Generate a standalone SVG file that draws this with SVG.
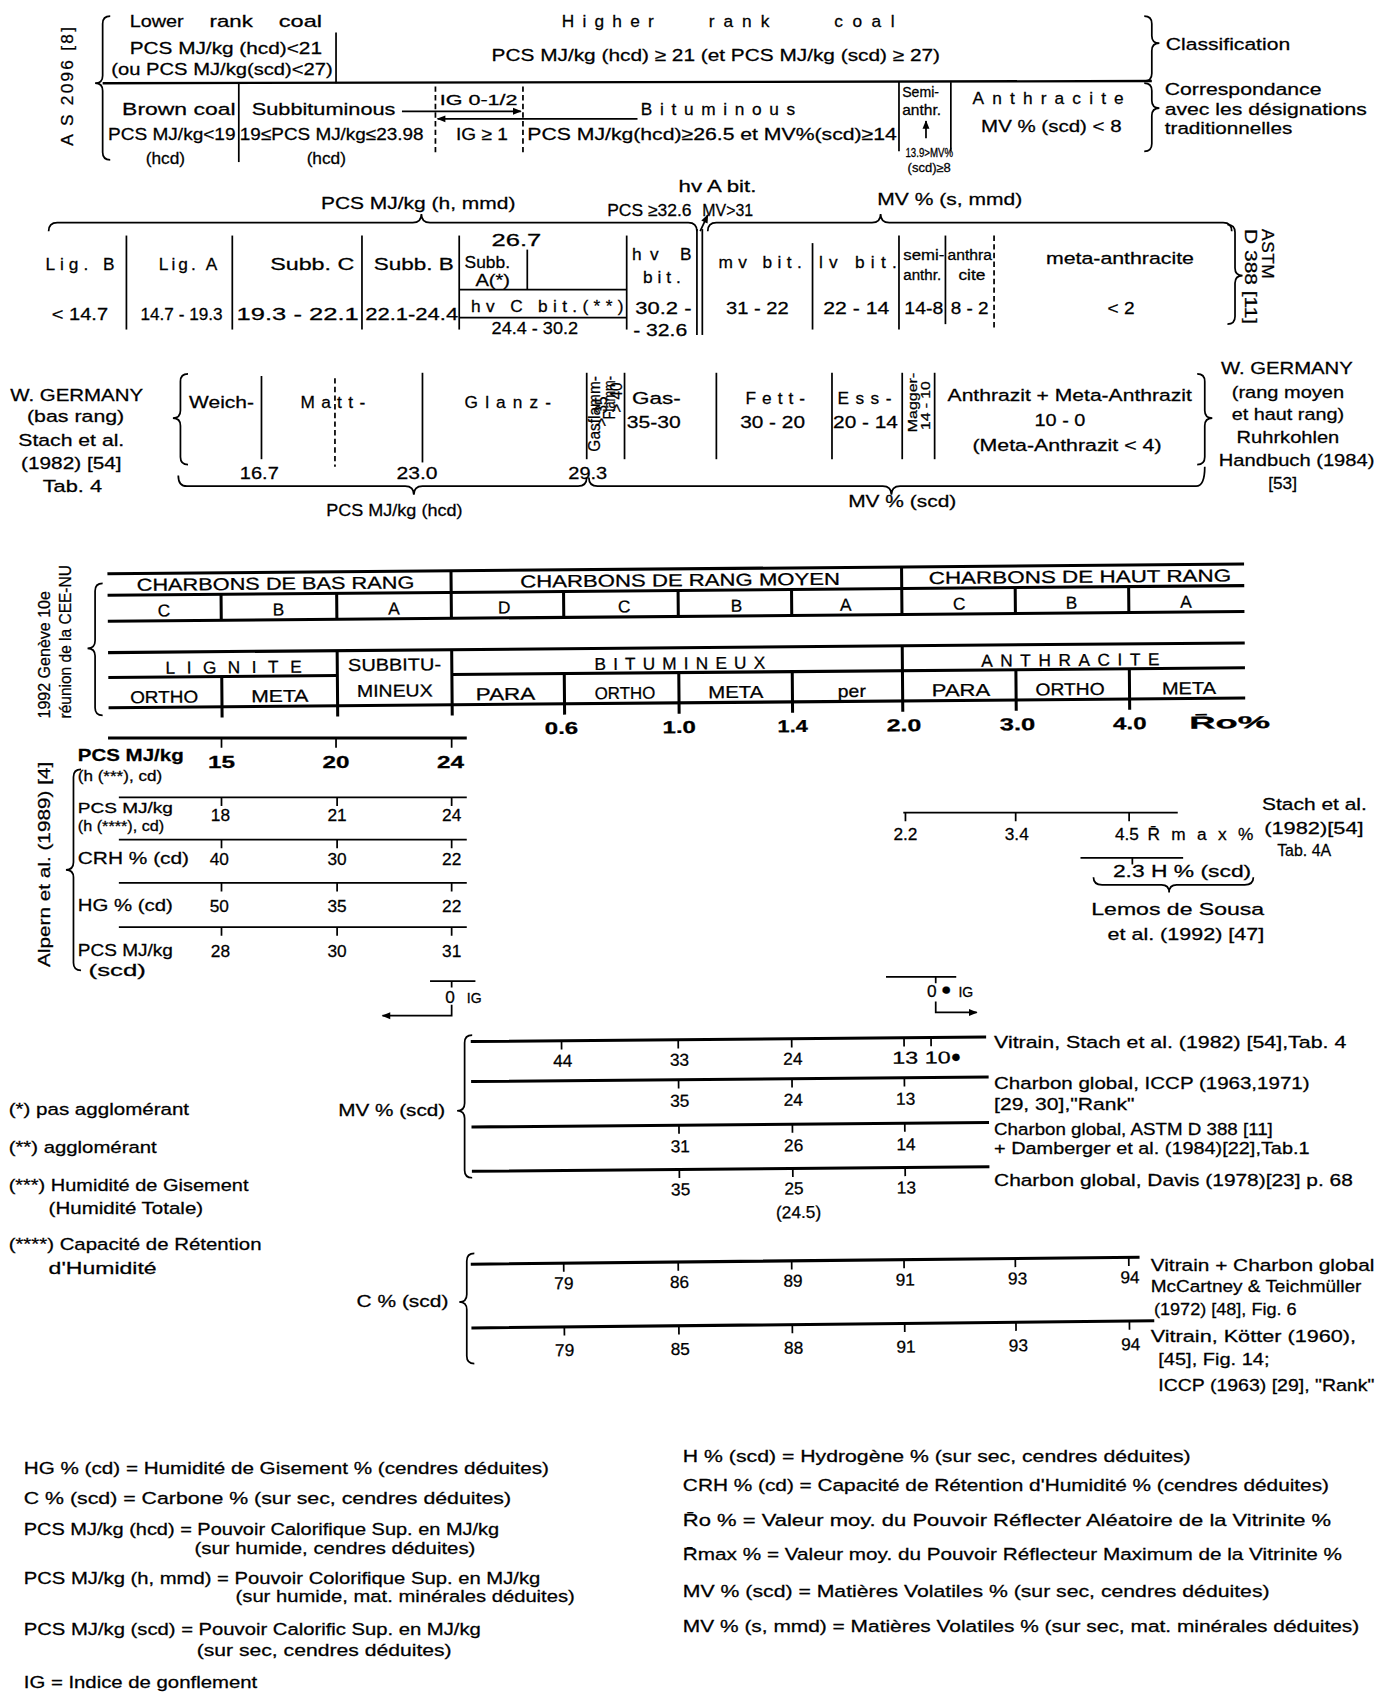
<svg xmlns="http://www.w3.org/2000/svg" width="1396" height="1694" viewBox="0 0 1396 1694">
<style>
text{font-family:'Liberation Sans',Arial,sans-serif;font-size:16px;fill:#000;stroke:#000;stroke-width:0.25}
.sm{font-size:13px}.xs{font-size:11px}.bd{font-weight:bold}.m{text-anchor:middle}
.ln{fill:none;stroke:#000;stroke-width:1.6}
.tk{fill:none;stroke:#000;stroke-width:2.8}
.ds{stroke-dasharray:5 3}
</style>
<defs>
<marker id="ah" viewBox="0 0 10 10" refX="9" refY="5" markerUnits="userSpaceOnUse" markerWidth="9" markerHeight="8" orient="auto-start-reverse"><path d="M0,1 L10,5 L0,9 z" fill="#000"/></marker>
</defs>
<rect width="1396" height="1694" fill="#fff"/>
<g transform="scale(1.0805)">

<!-- Section 1: AS 2096 -->
<g id="as2096">
<text transform="translate(68,135) rotate(-90)" textLength="110" lengthAdjust="spacing" font-size="17">A S 2096 [8]</text>
<path class="ln" d="M102,15 Q95,15 95,22 L95,70 Q95,77 88,77 Q95,77 95,84 L95,141 Q95,148 102,148"/>
<text x="120" y="25" textLength="50" lengthAdjust="spacingAndGlyphs">Lower</text>
<text x="194" y="25" textLength="40" lengthAdjust="spacingAndGlyphs">rank</text>
<text x="258" y="25" textLength="40" lengthAdjust="spacingAndGlyphs">coal</text>
<text x="120" y="50" textLength="178" lengthAdjust="spacingAndGlyphs">PCS MJ/kg (hcd)&lt;21</text>
<text x="103" y="69" textLength="205" lengthAdjust="spacingAndGlyphs">(ou PCS MJ/kg(scd)&lt;27)</text>
<line class="ln" x1="311" y1="30" x2="311" y2="77"/>
<text x="520" y="25" textLength="85" lengthAdjust="spacing">Higher</text>
<text x="656" y="25" textLength="56" lengthAdjust="spacing">rank</text>
<text x="772" y="25" textLength="56" lengthAdjust="spacing">coal</text>
<text x="455" y="56" textLength="415" lengthAdjust="spacingAndGlyphs">PCS MJ/kg (hcd) ≥ 21 (et PCS MJ/kg (scd) ≥ 27)</text>
<line x1="95" y1="77" x2="1066" y2="75" stroke="#000" stroke-width="2.2"/>
<path class="ln" d="M1059,15 Q1066,15 1066,22 L1066,33 Q1066,40 1073,40 Q1066,40 1066,47 L1066,68 Q1066,75 1059,75"/>
<text x="1079" y="46" textLength="115" lengthAdjust="spacingAndGlyphs">Classification</text>
<path class="ln" d="M1059,77 Q1066,77 1066,84 L1066,93 Q1066,100 1073,100 Q1066,100 1066,107 L1066,133 Q1066,140 1059,140"/>
<text x="1078" y="88" textLength="145" lengthAdjust="spacingAndGlyphs">Correspondance</text>
<text x="1078" y="106" textLength="187" lengthAdjust="spacingAndGlyphs">avec les désignations</text>
<text x="1078" y="124" textLength="118" lengthAdjust="spacingAndGlyphs">traditionnelles</text>
<text x="113" y="106" textLength="105" lengthAdjust="spacingAndGlyphs">Brown  coal</text>
<line class="ln" x1="221" y1="77" x2="221" y2="150"/>
<text x="233" y="106" textLength="133" lengthAdjust="spacingAndGlyphs">Subbituminous</text>
<line class="ln" x1="372" y1="103" x2="482" y2="103" marker-end="url(#ah)"/>
<line class="ln ds" x1="403" y1="80" x2="403" y2="142"/>
<line class="ln ds" x1="484" y1="80" x2="484" y2="142"/>
<text x="407" y="97" class="sm" textLength="72" lengthAdjust="spacingAndGlyphs">IG 0-1/2</text>
<line class="ln" x1="590" y1="110" x2="405" y2="110" marker-end="url(#ah)"/>
<text x="593" y="106" textLength="143" lengthAdjust="spacing">Bituminous</text>
<text x="100" y="130" textLength="118" lengthAdjust="spacingAndGlyphs">PCS MJ/kg&lt;19</text>
<text x="153" y="152" class="m">(hcd)</text>
<text x="222" y="130" textLength="170" lengthAdjust="spacingAndGlyphs">19≤PCS MJ/kg≤23.98</text>
<text x="302" y="152" class="m">(hcd)</text>
<text x="422" y="130" textLength="48" lengthAdjust="spacingAndGlyphs">IG ≥ 1</text>
<text x="488" y="130" textLength="342" lengthAdjust="spacingAndGlyphs">PCS MJ/kg(hcd)≥26.5 et MV%(scd)≥14</text>
<line class="ln" x1="832" y1="76" x2="832" y2="140"/>
<line class="ln" x1="880" y1="76" x2="880" y2="140"/>
<text x="835" y="90" class="sm" textLength="34" lengthAdjust="spacingAndGlyphs">Semi-</text>
<text x="835" y="106" class="sm" textLength="36" lengthAdjust="spacingAndGlyphs">anthr.</text>
<line class="ln" x1="857" y1="128" x2="857" y2="112" marker-end="url(#ah)"/>
<text x="838" y="145" class="xs" textLength="44" lengthAdjust="spacingAndGlyphs">13.9&gt;MV%</text>
<text x="840" y="159" class="xs" textLength="40" lengthAdjust="spacingAndGlyphs">(scd)≥8</text>
<text x="900" y="96" textLength="140" lengthAdjust="spacing">Anthracite</text>
<text x="908" y="122" textLength="130" lengthAdjust="spacingAndGlyphs">MV % (scd) &lt; 8</text>
</g>

<!-- Section 2: ASTM -->
<g id="astm">
<text x="628" y="178" textLength="72" lengthAdjust="spacingAndGlyphs">hv A bit.</text>
<text x="297" y="193" textLength="180" lengthAdjust="spacingAndGlyphs">PCS MJ/kg  (h, mmd)</text>
<text x="562" y="200" textLength="78" lengthAdjust="spacingAndGlyphs">PCS ≥32.6</text>
<text x="650" y="200" textLength="47" lengthAdjust="spacingAndGlyphs">MV&gt;31</text>
<text x="812" y="190" textLength="134" lengthAdjust="spacingAndGlyphs">MV %  (s, mmd)</text>
<path class="ln" d="M45,214 Q45,206 53,206 L382,206 Q390,206 390,198 Q390,206 398,206 L637,206 Q645,206 645,214"/>
<path class="ln" d="M655,214 Q655,206 663,206 L807,206 Q815,206 815,198 Q815,206 823,206 L1132,206 Q1140,206 1140,214"/>
<line class="ln" x1="648" y1="214" x2="655" y2="199" marker-end="url(#ah)"/>
<path class="ln" d="M1136,208 Q1143,208 1143,215 L1143,248 Q1143,255 1150,255 Q1143,255 1143,262 L1143,293 Q1143,300 1136,300"/>
<text transform="translate(1168,212) rotate(90)" textLength="46" lengthAdjust="spacing">ASTM</text>
<text transform="translate(1152,212) rotate(90)" textLength="88" lengthAdjust="spacingAndGlyphs">D 388 [11]</text>
<line class="ln" x1="117" y1="218" x2="117" y2="305"/>
<line class="ln" x1="215" y1="218" x2="215" y2="305"/>
<line class="ln" x1="335" y1="218" x2="335" y2="305"/>
<line class="ln" x1="425" y1="218" x2="425" y2="305"/>
<line class="ln" x1="488" y1="231" x2="488" y2="268"/>
<line class="ln" x1="580" y1="218" x2="580" y2="305"/>
<line class="ln" x1="645" y1="212" x2="645" y2="310"/>
<line class="ln" x1="650" y1="212" x2="650" y2="310"/>
<line class="ln" x1="752" y1="225" x2="752" y2="305"/>
<line class="ln" x1="832" y1="218" x2="832" y2="305"/>
<line class="ln" x1="875" y1="218" x2="875" y2="300"/>
<line class="ln ds" x1="920" y1="218" x2="920" y2="305"/>
<line class="ln" x1="425" y1="268" x2="580" y2="268"/>
<line class="ln" x1="425" y1="294" x2="580" y2="294"/>
<text x="42" y="250" textLength="64" lengthAdjust="spacing">Lig. B</text>
<text x="48" y="296" textLength="52" lengthAdjust="spacingAndGlyphs">&lt; 14.7</text>
<text x="147" y="250" textLength="54" lengthAdjust="spacing">Lig. A</text>
<text x="130" y="296" textLength="76" lengthAdjust="spacingAndGlyphs">14.7 - 19.3</text>
<text x="250" y="250" textLength="78" lengthAdjust="spacingAndGlyphs">Subb. C</text>
<text x="219" y="296" textLength="113" lengthAdjust="spacingAndGlyphs">19.3 - 22.1</text>
<text x="346" y="250" textLength="74" lengthAdjust="spacingAndGlyphs">Subb. B</text>
<text x="338" y="296" textLength="86" lengthAdjust="spacingAndGlyphs">22.1-24.4</text>
<text x="455" y="228" textLength="46" lengthAdjust="spacingAndGlyphs">26.7</text>
<text x="430" y="248" textLength="42" lengthAdjust="spacingAndGlyphs">Subb.</text>
<text x="440" y="265" textLength="32" lengthAdjust="spacingAndGlyphs">A(*)</text>
<text x="436" y="289" textLength="141" lengthAdjust="spacing">hv C bit.(**)</text>
<text x="455" y="309" textLength="80" lengthAdjust="spacingAndGlyphs">24.4 - 30.2</text>
<text x="585" y="241" textLength="55" lengthAdjust="spacing">hv B</text>
<text x="595" y="262" textLength="35" lengthAdjust="spacing">bit.</text>
<text x="588" y="291" textLength="52" lengthAdjust="spacingAndGlyphs">30.2 -</text>
<text x="586" y="311" textLength="50" lengthAdjust="spacingAndGlyphs">- 32.6</text>
<text x="665" y="248" textLength="77" lengthAdjust="spacing">mv bit.</text>
<text x="672" y="291" textLength="58" lengthAdjust="spacingAndGlyphs">31 - 22</text>
<text x="758" y="248" textLength="72" lengthAdjust="spacing">lv bit.</text>
<text x="762" y="291" textLength="61" lengthAdjust="spacingAndGlyphs">22 - 14</text>
<text x="836" y="241" class="sm" textLength="38" lengthAdjust="spacingAndGlyphs">semi-</text>
<text x="836" y="259" class="sm" textLength="35" lengthAdjust="spacingAndGlyphs">anthr.</text>
<text x="837" y="291" textLength="36" lengthAdjust="spacingAndGlyphs">14-8</text>
<text x="877" y="241" class="sm" textLength="41" lengthAdjust="spacingAndGlyphs">anthra</text>
<text x="887" y="259" class="sm" textLength="25" lengthAdjust="spacingAndGlyphs">cite</text>
<text x="880" y="291" textLength="35" lengthAdjust="spacingAndGlyphs">8 - 2</text>
<text x="968" y="244" textLength="137" lengthAdjust="spacingAndGlyphs">meta-anthracite</text>
<text x="1025" y="291" textLength="25" lengthAdjust="spacingAndGlyphs">&lt; 2</text>
</g>

<!-- Section 3: W. Germany -->
<g id="wgermany">
<text x="71" y="371" class="m" textLength="123" lengthAdjust="spacingAndGlyphs">W. GERMANY</text>
<text x="70" y="391" class="m" textLength="90" lengthAdjust="spacingAndGlyphs">(bas rang)</text>
<text x="66" y="413" class="m" textLength="98" lengthAdjust="spacingAndGlyphs">Stach et al.</text>
<text x="66" y="434" class="m" textLength="93" lengthAdjust="spacingAndGlyphs">(1982) [54]</text>
<text x="67" y="455" class="m" textLength="55" lengthAdjust="spacingAndGlyphs">Tab. 4</text>
<path class="ln" d="M174,346 Q167,346 167,353 L167,380 Q167,387 160,387 Q167,387 167,394 L167,423 Q167,430 174,430"/>
<text x="175" y="378" textLength="60" lengthAdjust="spacingAndGlyphs">Weich-</text>
<line class="ln" x1="242" y1="348" x2="242" y2="425"/>
<text x="278" y="378" textLength="60" lengthAdjust="spacing">Matt-</text>
<line class="ln ds" x1="310" y1="350" x2="310" y2="432"/>
<line class="ln" x1="391" y1="345" x2="391" y2="428"/>
<text x="430" y="378" textLength="80" lengthAdjust="spacing">Glanz-</text>
<line class="ln" x1="543" y1="345" x2="543" y2="425"/>
<text transform="translate(555,418) rotate(-90)" font-size="10" textLength="70" lengthAdjust="spacingAndGlyphs">Gasflamm-</text>
<text transform="translate(562,395) rotate(-90)" font-size="10" textLength="28" lengthAdjust="spacingAndGlyphs">&gt; 35</text>
<text transform="translate(569,388) rotate(-90)" font-size="10" textLength="40" lengthAdjust="spacingAndGlyphs">Flamm-</text>
<text transform="translate(576,382) rotate(-90)" font-size="10" textLength="28" lengthAdjust="spacingAndGlyphs">&gt; 40</text>
<line class="ln" x1="578" y1="345" x2="578" y2="425"/>
<text x="585" y="374" textLength="45" lengthAdjust="spacingAndGlyphs">Gas-</text>
<text x="580" y="396" textLength="50" lengthAdjust="spacingAndGlyphs">35-30</text>
<line class="ln" x1="663" y1="345" x2="663" y2="425"/>
<text x="690" y="374" textLength="55" lengthAdjust="spacing">Fett-</text>
<text x="685" y="396" textLength="60" lengthAdjust="spacingAndGlyphs">30 - 20</text>
<line class="ln" x1="770" y1="345" x2="770" y2="425"/>
<text x="775" y="374" textLength="50" lengthAdjust="spacing">Ess-</text>
<text x="771" y="396" textLength="60" lengthAdjust="spacingAndGlyphs">20 - 14</text>
<line class="ln" x1="835" y1="345" x2="835" y2="425"/>
<text transform="translate(849,400) rotate(-90)" class="xs" textLength="55" lengthAdjust="spacingAndGlyphs">Magger-</text>
<text transform="translate(861,398) rotate(-90)" class="xs" textLength="45" lengthAdjust="spacingAndGlyphs">14 - 10</text>
<line class="ln" x1="865" y1="345" x2="865" y2="425"/>
<text x="877" y="371" textLength="226" lengthAdjust="spacingAndGlyphs">Anthrazit + Meta-Anthrazit</text>
<text x="981" y="394" class="m" textLength="47" lengthAdjust="spacingAndGlyphs">10 - 0</text>
<text x="900" y="417" textLength="175" lengthAdjust="spacingAndGlyphs">(Meta-Anthrazit  &lt; 4)</text>
<path class="ln" d="M1108,346 Q1115,346 1115,353 L1115,380 Q1115,387 1122,387 Q1115,387 1115,394 L1115,423 Q1115,430 1108,430"/>
<text x="1191" y="346" class="m" textLength="122" lengthAdjust="spacingAndGlyphs">W. GERMANY</text>
<text x="1192" y="368" class="m" textLength="104" lengthAdjust="spacingAndGlyphs">(rang moyen</text>
<text x="1192" y="389" class="m" textLength="104" lengthAdjust="spacingAndGlyphs">et haut rang)</text>
<text x="1192" y="410" class="m" textLength="95" lengthAdjust="spacingAndGlyphs">Ruhrkohlen</text>
<text x="1200" y="431" class="m" textLength="144" lengthAdjust="spacingAndGlyphs">Handbuch (1984)</text>
<text x="1187" y="453" class="m">[53]</text>
<text x="240" y="443" class="m" textLength="36" lengthAdjust="spacingAndGlyphs">16.7</text>
<text x="386" y="443" class="m" textLength="38" lengthAdjust="spacingAndGlyphs">23.0</text>
<text x="544" y="443" class="m" textLength="36" lengthAdjust="spacingAndGlyphs">29.3</text>
<path class="ln" d="M165,440 Q165,450 173,450 L375,450 Q383,450 383,458 Q383,450 391,450 L535,450 Q543,450 543,442"/>
<path class="ln" d="M545,442 Q545,450 553,450 L817,450 Q825,450 825,458 Q825,450 833,450 L1107,450 Q1115,450 1115,432"/>
<text x="302" y="478" textLength="126" lengthAdjust="spacingAndGlyphs">PCS MJ/kg (hcd)</text>
<text x="785" y="469" textLength="100" lengthAdjust="spacingAndGlyphs">MV %  (scd)</text>
</g>

<!-- Section 4: CEE-NU 1992 -->
<g id="ceenu">
<text transform="translate(46,665) rotate(-90)" font-size="17" textLength="118" lengthAdjust="spacingAndGlyphs">1992 Genève 10e</text>
<text transform="translate(66,665) rotate(-90)" font-size="17" textLength="142" lengthAdjust="spacingAndGlyphs">réunion de la CEE-NU</text>
<path class="ln" d="M95,540 Q88,540 88,547 L88,593 Q88,600 81,600 Q88,600 88,607 L88,655 Q88,662 95,662"/>
<g transform="rotate(-0.49,100,600)">
<line class="tk" x1="100" y1="531" x2="1152" y2="531"/>
<line class="tk" x1="100" y1="551" x2="1152" y2="551" stroke-width="2.2"/>
<line class="tk" x1="100" y1="575" x2="1152" y2="575" stroke-width="3.2"/>
<line class="tk" x1="100" y1="604" x2="1152" y2="604" stroke-width="3.2"/>
<line class="tk" x1="100" y1="627" x2="312" y2="627" stroke-width="2.2"/>
<line class="tk" x1="418" y1="627" x2="1152" y2="627" stroke-width="2.2"/>
<line class="tk" x1="100" y1="655" x2="1152" y2="655" stroke-width="3.2"/>
<path class="tk" stroke-width="2.4" d="M418,531V551M835,531V551M205,551V575M312,551V575M418,551V575M522,551V575M628,551V575M733,551V575M835,551V575M940,551V575M1045,551V575M312,604V655M418,604V627M835,604V627M205,627V665M312,627V665M418,627V665M522,627V665M628,627V665M733,627V665M835,627V665M940,627V665M1045,627V665"/>
<text x="127" y="547" textLength="257" lengthAdjust="spacingAndGlyphs">CHARBONS  DE  BAS  RANG</text>
<text x="482" y="547" textLength="296" lengthAdjust="spacingAndGlyphs">CHARBONS  DE  RANG  MOYEN</text>
<text x="860" y="547" textLength="280" lengthAdjust="spacingAndGlyphs">CHARBONS  DE  HAUT  RANG</text>
<text x="152" y="571" class="m">C</text>
<text x="258" y="571" class="m">B</text>
<text x="365" y="571" class="m">A</text>
<text x="467" y="571" class="m">D</text>
<text x="578" y="571" class="m">C</text>
<text x="682" y="571" class="m">B</text>
<text x="783" y="571" class="m">A</text>
<text x="888" y="571" class="m">C</text>
<text x="992" y="571" class="m">B</text>
<text x="1098" y="571" class="m">A</text>
<text x="153" y="624" textLength="126" lengthAdjust="spacing">LIGNITE</text>
<text x="322" y="623" textLength="86" lengthAdjust="spacingAndGlyphs">SUBBITU-</text>
<text x="330" y="647" textLength="70" lengthAdjust="spacingAndGlyphs">MINEUX</text>
<text x="550" y="624" textLength="158" lengthAdjust="spacing">BITUMINEUX</text>
<text x="908" y="624" textLength="165" lengthAdjust="spacing">ANTHRACITE</text>
<text x="120" y="651" textLength="63" lengthAdjust="spacingAndGlyphs">ORTHO</text>
<text x="232" y="651" textLength="53" lengthAdjust="spacingAndGlyphs">META</text>
<text x="440" y="651" textLength="55" lengthAdjust="spacingAndGlyphs">PARA</text>
<text x="550" y="651" textLength="56" lengthAdjust="spacingAndGlyphs">ORTHO</text>
<text x="655" y="651" textLength="51" lengthAdjust="spacingAndGlyphs">META</text>
<text x="775" y="651" textLength="26" lengthAdjust="spacingAndGlyphs">per</text>
<text x="862" y="651" textLength="54" lengthAdjust="spacingAndGlyphs">PARA</text>
<text x="958" y="651" textLength="64" lengthAdjust="spacingAndGlyphs">ORTHO</text>
<text x="1075" y="651" textLength="50" lengthAdjust="spacingAndGlyphs">META</text>
<text x="519" y="683" class="m bd" font-size="21" textLength="31" lengthAdjust="spacingAndGlyphs">0.6</text>
<text x="628" y="683" class="m bd" font-size="21" textLength="31" lengthAdjust="spacingAndGlyphs">1.0</text>
<text x="733" y="683" class="m bd" font-size="21" textLength="28" lengthAdjust="spacingAndGlyphs">1.4</text>
<text x="836" y="683" class="m bd" font-size="21" textLength="32" lengthAdjust="spacingAndGlyphs">2.0</text>
<text x="941" y="683" class="m bd" font-size="21" textLength="33" lengthAdjust="spacingAndGlyphs">3.0</text>
<text x="1045" y="683" class="m bd" font-size="21" textLength="31" lengthAdjust="spacingAndGlyphs">4.0</text>
<text x="1100" y="683" class="bd" font-size="21" textLength="75" lengthAdjust="spacingAndGlyphs">R̄o%</text>
</g>
</g>

<!-- Section 5: Alpern -->
<g id="alpern">
<text transform="translate(46,895) rotate(-90)" font-size="17" textLength="190" lengthAdjust="spacingAndGlyphs">Alpern et al. (1989) [4]</text>
<path class="ln" d="M75,712 Q68,712 68,719 L68,798 Q68,805 61,805 Q68,805 68,812 L68,891 Q68,898 75,898"/>
<path class="tk" stroke-width="3" d="M100,683H432"/>
<path class="ln" d="M205,683V692M311,683V692M418,683V692"/>
<text x="72" y="704" class="bd" font-size="20" textLength="98" lengthAdjust="spacingAndGlyphs">PCS MJ/kg</text>
<text x="205" y="711" class="m bd" font-size="22" textLength="25" lengthAdjust="spacingAndGlyphs">15</text>
<text x="311" y="711" class="m bd" font-size="22" textLength="25" lengthAdjust="spacingAndGlyphs">20</text>
<text x="417" y="711" class="m bd" font-size="22" textLength="25" lengthAdjust="spacingAndGlyphs">24</text>
<text x="72" y="723" class="sm" textLength="78" lengthAdjust="spacingAndGlyphs">(h (***), cd)</text>
<path class="ln" stroke-width="2" d="M110,738H432M205,738V746M312,738V746M418,738V746"/>
<text x="72" y="752" class="sm" textLength="88" lengthAdjust="spacingAndGlyphs">PCS MJ/kg</text>
<text x="72" y="769" class="sm" textLength="80" lengthAdjust="spacingAndGlyphs">(h (****), cd)</text>
<text x="204" y="760" class="m">18</text>
<text x="312" y="760" class="m">21</text>
<text x="418" y="760" class="m">24</text>
<path class="ln" stroke-width="2" d="M110,777H432M205,777V785M312,777V785M418,777V785"/>
<text x="72" y="800" textLength="103" lengthAdjust="spacingAndGlyphs">CRH % (cd)</text>
<text x="203" y="801" class="m">40</text>
<text x="312" y="801" class="m">30</text>
<text x="418" y="801" class="m">22</text>
<path class="ln" stroke-width="2" d="M110,817H432M205,817V825M312,817V825M418,817V825"/>
<text x="72" y="843" textLength="88" lengthAdjust="spacingAndGlyphs">HG % (cd)</text>
<text x="203" y="844" class="m">50</text>
<text x="312" y="844" class="m">35</text>
<text x="418" y="844" class="m">22</text>
<path class="ln" stroke-width="2" d="M110,858H432M205,858V866M312,858V866M418,858V866"/>
<text x="72" y="885" textLength="88" lengthAdjust="spacingAndGlyphs">PCS MJ/kg</text>
<text x="82" y="903" textLength="53" lengthAdjust="spacingAndGlyphs">(scd)</text>
<text x="204" y="886" class="m">28</text>
<text x="312" y="886" class="m">30</text>
<text x="418" y="886" class="m">31</text>
</g>

<!-- IG arrows -->
<g id="ig">
<path class="ln" d="M398,908H440M418,908V914"/>
<text x="412" y="928">0</text>
<text x="432" y="928" class="sm">IG</text>
<path class="ln" d="M418,930V940H354" marker-end="url(#ah)"/>
<path class="ln" d="M820,904H885M866,904V910"/>
<text x="858" y="923">0</text>
<text x="871" y="921" font-size="12">●</text>
<text x="887" y="923" class="sm">IG</text>
<path class="ln" d="M866,927V937H904" marker-end="url(#ah)"/>
</g>

<!-- Stach Rmax -->
<g id="rmax">
<path class="ln" stroke-width="2" d="M836,752H1090M838,752V760M940,752V760M1045,752V760"/>
<text x="838" y="777" class="m">2.2</text>
<text x="941" y="777" class="m">3.4</text>
<text x="1043" y="777" class="m">4.5</text>
<text x="1062" y="777" textLength="98" lengthAdjust="spacing">R̄max%</text>
<text x="1168" y="750" textLength="97" lengthAdjust="spacingAndGlyphs">Stach et al.</text>
<text x="1170" y="772" textLength="92" lengthAdjust="spacingAndGlyphs">(1982)[54]</text>
<text x="1182" y="792" textLength="50" lengthAdjust="spacingAndGlyphs">Tab. 4A</text>
<path class="ln" stroke-width="2" d="M1000,794H1095M1048,794V800"/>
<text x="1030" y="812" textLength="128" lengthAdjust="spacingAndGlyphs">2.3  H % (scd)</text>
<path class="ln" d="M1012,812 Q1012,819 1020,819 L1075,819 Q1082,819 1082,826 Q1082,819 1089,819 L1152,819 Q1160,819 1160,812"/>
<text x="1010" y="847" textLength="160" lengthAdjust="spacingAndGlyphs">Lemos de Sousa</text>
<text x="1025" y="870" textLength="145" lengthAdjust="spacingAndGlyphs">et al. (1992) [47]</text>
</g>

<!-- MV section -->
<g id="mv">
<text x="313" y="1033" textLength="99" lengthAdjust="spacingAndGlyphs">MV % (scd)</text>
<path class="ln" d="M437,958 Q430,958 430,965 L430,1021 Q430,1028 423,1028 Q430,1028 430,1035 L430,1083 Q430,1090 437,1090"/>
<g transform="rotate(-0.5,436,1000)">
<path class="tk" stroke-width="2.6" d="M436,964H913M436,1001H915M436,1043H915M436,1084H915"/>
<path class="ln" d="M520,964V972M628,964V972M733,964V972M837,964V972M862,964V972M628,1001V1009M733,1001V1009M837,1001V1009M628,1043V1051M733,1043V1051M837,1043V1051M628,1084V1092M733,1084V1092M837,1084V1092"/>
<text x="521" y="988" class="m">44</text>
<text x="629" y="988" class="m">33</text>
<text x="734" y="988" class="m">24</text>
<text x="826" y="988" textLength="54" lengthAdjust="spacingAndGlyphs">13 10</text>
<text x="880" y="987" font-size="12">●</text>
<text x="629" y="1026" class="m">35</text>
<text x="734" y="1026" class="m">24</text>
<text x="838" y="1026" class="m">13</text>
<text x="629" y="1068" class="m">31</text>
<text x="734" y="1068" class="m">26</text>
<text x="838" y="1068" class="m">14</text>
<text x="629" y="1108" class="m">35</text>
<text x="734" y="1108" class="m">25</text>
<text x="838" y="1108" class="m">13</text>
<text x="738" y="1130" class="m">(24.5)</text>
</g>
<text x="920" y="970" textLength="326" lengthAdjust="spacingAndGlyphs">Vitrain, Stach et al. (1982) [54],Tab. 4</text>
<text x="920" y="1008" textLength="292" lengthAdjust="spacingAndGlyphs">Charbon global, ICCP (1963,1971)</text>
<text x="920" y="1027" textLength="130" lengthAdjust="spacingAndGlyphs">[29, 30],"Rank"</text>
<text x="920" y="1050" textLength="258" lengthAdjust="spacingAndGlyphs">Charbon global, ASTM D 388 [11]</text>
<text x="920" y="1068" textLength="292" lengthAdjust="spacingAndGlyphs">+ Damberger et al. (1984)[22],Tab.1</text>
<text x="920" y="1098" textLength="332" lengthAdjust="spacingAndGlyphs">Charbon global, Davis (1978)[23] p. 68</text>
</g>

<!-- Footnotes -->
<g id="footnotes">
<text x="8" y="1032" textLength="167" lengthAdjust="spacingAndGlyphs">(*) pas agglomérant</text>
<text x="8" y="1067" textLength="137" lengthAdjust="spacingAndGlyphs">(**) agglomérant</text>
<text x="8" y="1102" textLength="222" lengthAdjust="spacingAndGlyphs">(***) Humidité de Gisement</text>
<text x="45" y="1124" textLength="143" lengthAdjust="spacingAndGlyphs">(Humidité Totale)</text>
<text x="8" y="1157" textLength="234" lengthAdjust="spacingAndGlyphs">(****) Capacité de Rétention</text>
<text x="45" y="1179" textLength="100" lengthAdjust="spacingAndGlyphs">d'Humidité</text>
</g>

<!-- C% section -->
<g id="carbon">
<text x="330" y="1210" textLength="85" lengthAdjust="spacingAndGlyphs">C % (scd)</text>
<path class="ln" d="M439,1160 Q432,1160 432,1167 L432,1198 Q432,1205 425,1205 Q432,1205 432,1212 L432,1255 Q432,1262 439,1262"/>
<g transform="rotate(-0.6,436,1200)">
<path class="tk" stroke-width="2.6" d="M436,1170H1055M436,1229H1068"/>
<path class="ln" d="M522,1170V1178M628,1170V1178M733,1170V1178M837,1170V1178M940,1170V1178M1045,1170V1178M522,1229V1237M628,1229V1237M733,1229V1237M837,1229V1237M940,1229V1237M1045,1229V1237"/>
<text x="522" y="1194" class="m">79</text>
<text x="629" y="1194" class="m">86</text>
<text x="734" y="1194" class="m">89</text>
<text x="838" y="1194" class="m">91</text>
<text x="942" y="1194" class="m">93</text>
<text x="1046" y="1194" class="m">94</text>
<text x="522" y="1256" class="m">79</text>
<text x="629" y="1256" class="m">85</text>
<text x="734" y="1256" class="m">88</text>
<text x="838" y="1256" class="m">91</text>
<text x="942" y="1256" class="m">93</text>
<text x="1046" y="1256" class="m">94</text>
</g>
<text x="1065" y="1176" textLength="207" lengthAdjust="spacingAndGlyphs">Vitrain + Charbon global</text>
<text x="1065" y="1196" textLength="195" lengthAdjust="spacingAndGlyphs">McCartney &amp; Teichmüller</text>
<text x="1068" y="1217" textLength="132" lengthAdjust="spacingAndGlyphs">(1972) [48], Fig. 6</text>
<text x="1065" y="1242" textLength="190" lengthAdjust="spacingAndGlyphs">Vitrain, Kötter (1960),</text>
<text x="1072" y="1263" textLength="103" lengthAdjust="spacingAndGlyphs">[45], Fig. 14;</text>
<text x="1072" y="1287" textLength="200" lengthAdjust="spacingAndGlyphs">ICCP (1963) [29], "Rank"</text>
</g>

<!-- Legend -->
<g id="legend">
<text x="22" y="1364" textLength="486" lengthAdjust="spacingAndGlyphs">HG % (cd) = Humidité de Gisement % (cendres déduites)</text>
<text x="22" y="1392" textLength="451" lengthAdjust="spacingAndGlyphs">C % (scd) = Carbone %  (sur sec, cendres déduites)</text>
<text x="22" y="1421" textLength="440" lengthAdjust="spacingAndGlyphs">PCS MJ/kg (hcd) = Pouvoir Calorifique Sup. en MJ/kg</text>
<text x="180" y="1438" textLength="260" lengthAdjust="spacingAndGlyphs">(sur humide, cendres déduites)</text>
<text x="22" y="1466" textLength="478" lengthAdjust="spacingAndGlyphs">PCS MJ/kg (h, mmd) = Pouvoir Colorifique Sup. en  MJ/kg</text>
<text x="218" y="1483" textLength="314" lengthAdjust="spacingAndGlyphs">(sur humide, mat. minérales déduites)</text>
<text x="22" y="1513" textLength="423" lengthAdjust="spacingAndGlyphs">PCS MJ/kg (scd) = Pouvoir Calorific Sup. en MJ/kg</text>
<text x="182" y="1533" textLength="236" lengthAdjust="spacingAndGlyphs">(sur sec, cendres déduites)</text>
<text x="22" y="1562" textLength="216" lengthAdjust="spacingAndGlyphs">IG = Indice de gonflement</text>
<text x="632" y="1353" textLength="470" lengthAdjust="spacingAndGlyphs">H % (scd) = Hydrogène % (sur sec, cendres déduites)</text>
<text x="632" y="1380" textLength="598" lengthAdjust="spacingAndGlyphs">CRH % (cd) = Capacité de Rétention d'Humidité % (cendres déduites)</text>
<text x="632" y="1412" textLength="600" lengthAdjust="spacingAndGlyphs">R̄o % = Valeur moy. du Pouvoir Réflecter Aléatoire de la Vitrinite %</text>
<text x="632" y="1444" textLength="610" lengthAdjust="spacingAndGlyphs">R̄max % = Valeur moy. du Pouvoir Réflecteur Maximum de la Vitrinite %</text>
<text x="632" y="1478" textLength="543" lengthAdjust="spacingAndGlyphs">MV % (scd) = Matières Volatiles % (sur sec, cendres déduites)</text>
<text x="632" y="1510" textLength="626" lengthAdjust="spacingAndGlyphs">MV % (s, mmd) = Matières Volatiles % (sur sec, mat. minérales déduites)</text>
</g>

</g>
</svg>
